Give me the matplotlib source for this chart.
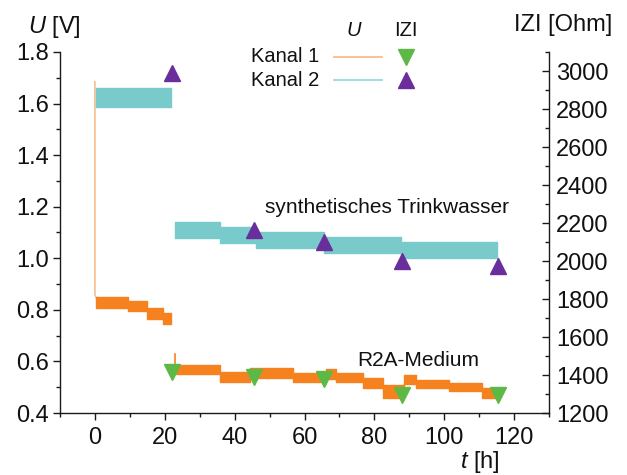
import matplotlib
matplotlib.use('Agg')
import matplotlib.pyplot as plt
from matplotlib.lines import Line2D
from matplotlib.ticker import MultipleLocator

plt.rcParams['font.family'] = ['Liberation Sans', 'DejaVu Sans']
plt.rcParams['mathtext.fontset'] = 'custom'
plt.rcParams['mathtext.it'] = 'Liberation Sans:italic'
plt.rcParams['mathtext.rm'] = 'Liberation Sans'

# ---- data ----
# Kanal 1 voltage (orange): step bands, segment start times [h], lower/upper [V]
k1a_t = [0.3, 9.5, 15.0, 19.4, 21.7]
k1a_lo = [0.806, 0.794, 0.763, 0.744, 0.744]
k1a_hi = [0.848, 0.834, 0.806, 0.787, 0.787]
k1b_t = [22.9, 35.7, 44.3, 56.7, 66.2, 69.0, 76.7, 82.4, 88.6, 91.9, 101.4, 110.9, 115.0]
k1b_lo = [0.552, 0.521, 0.536, 0.519, 0.533, 0.521, 0.498, 0.460, 0.513, 0.496, 0.485, 0.458, 0.458]
k1b_hi = [0.587, 0.560, 0.573, 0.556, 0.571, 0.556, 0.537, 0.510, 0.548, 0.529, 0.517, 0.498, 0.498]
k1_drop_t = [0.0, 0.0, 0.3]
k1_drop_v = [1.685, 0.860, 0.848]
k1_spike_t = [22.9, 22.9]
k1_spike_v = [0.630, 0.560]

# Kanal 2 voltage (cyan)
k2a_t = [0.3, 21.7]
k2a_lo = [1.587, 1.587]
k2a_hi = [1.660, 1.660]
k2b_t = [22.9, 35.7, 46.2, 65.7, 87.7, 115.0]
k2b_lo = [1.079, 1.060, 1.040, 1.021, 1.000, 1.000]
k2b_hi = [1.140, 1.121, 1.102, 1.083, 1.064, 1.064]

# Impedance |Z| [Ohm]
z_t = [22.0, 45.5, 65.5, 88.0, 115.5]
z_k1 = [1415, 1390, 1380, 1295, 1295]
z_k2 = [2990, 2165, 2100, 2000, 1975]

x_ticks = [0, 20, 40, 60, 80, 100, 120]
yl_ticks = [0.4, 0.6, 0.8, 1.0, 1.2, 1.4, 1.6, 1.8]
yr_ticks = [1200, 1400, 1600, 1800, 2000, 2200, 2400, 2600, 2800, 3000]

C_OR = '#F5821F'
C_OR_L = '#F8BE8C'
C_CY = '#79CBCB'
C_CY_L = '#9BDADA'
C_GR = '#5DB946'
C_PU = '#6A2E9C'
C_AX = '#1a1a1a'
C_TX = '#111111'

W, H = 627, 475
fig = plt.figure(figsize=(W / 100, H / 100), dpi=100)


def px(x, y):
    return x / W, 1 - y / H


ax = fig.add_axes([60 / W, (H - 413) / H, (549 - 60) / W, (413 - 52) / H])
ax2 = ax.twinx()

# voltage traces
ax.plot(k1_drop_t, k1_drop_v, color=C_OR_L, lw=1.2, zorder=2)
for tt, lo, hi, c in [(k1a_t, k1a_lo, k1a_hi, C_OR), (k1b_t, k1b_lo, k1b_hi, C_OR),
                      (k2a_t, k2a_lo, k2a_hi, C_CY), (k2b_t, k2b_lo, k2b_hi, C_CY)]:
    ax.fill_between(tt, lo, hi, step='post', facecolor=c, edgecolor=c, lw=1.0, zorder=3)
ax.plot(k1_spike_t, k1_spike_v, color=C_OR, lw=1.2, zorder=3)

# impedance markers
ax2.plot(z_t, z_k1, linestyle='none', marker='v', ms=11, color=C_GR, mec=C_GR, zorder=5)
ax2.plot(z_t, z_k2, linestyle='none', marker='^', ms=11, color=C_PU, mec=C_PU, zorder=5)

ax.set_xlim(-10, 130)
ax.set_ylim(0.4, 1.8)
ax2.set_ylim(1200, 3100)

ax.set_xticks(x_ticks)
ax.set_yticks(yl_ticks)
ax.set_yticklabels([f'{v:.1f}' for v in yl_ticks])
ax2.set_yticks(yr_ticks)
ax.xaxis.set_minor_locator(MultipleLocator(10))
ax.yaxis.set_minor_locator(MultipleLocator(0.1))
ax2.yaxis.set_minor_locator(MultipleLocator(100))

for s in ['top', 'right']:
    ax.spines[s].set_visible(False)
for s in ['top', 'left', 'bottom']:
    ax2.spines[s].set_visible(False)
for s in ['left', 'bottom']:
    ax.spines[s].set_linewidth(1.0)
    ax.spines[s].set_color(C_AX)
ax2.spines['right'].set_linewidth(1.0)
ax2.spines['right'].set_color(C_AX)

FS = 17
ax.tick_params(axis='both', which='major', direction='out', length=5, width=1.0,
               colors=C_AX, labelsize=FS, pad=3)
ax.tick_params(axis='x', which='major', pad=5)
ax.tick_params(axis='both', which='minor', direction='out', length=3, width=1.0, colors=C_AX)
ax2.tick_params(axis='y', which='major', direction='in', length=5, width=1.0,
                colors=C_AX, labelsize=FS, pad=5)
ax2.tick_params(axis='y', which='minor', direction='in', length=3, width=1.0, colors=C_AX)
for lab in ax.get_xticklabels() + ax.get_yticklabels() + ax2.get_yticklabels():
    lab.set_color(C_TX)

# annotations
ax.text(48.6, 1.196, 'synthetisches Trinkwasser', fontsize=15, ha='left', va='center', color=C_TX)
ax.text(75.1, 0.604, 'R2A-Medium', fontsize=15, ha='left', va='center', color=C_TX)

# axis labels
fig.text(*px(28, 27), r'$U$ [V]', fontsize=FS, ha='left', va='center', color=C_TX)
fig.text(*px(514, 25), r'IZI [Ohm]', fontsize=FS, ha='left', va='center', color=C_TX)
fig.text(*px(460, 462), r'$t$ [h]', fontsize=FS, ha='left', va='center', color=C_TX)

# legend (manual)
LFS = 14.5
fig.text(*px(354, 30), r'$U$', fontsize=LFS, ha='center', va='center', color=C_TX)
fig.text(*px(406, 30), 'IZI', fontsize=LFS, ha='center', va='center', color=C_TX)
fig.text(*px(251, 57), 'Kanal 1', fontsize=LFS, ha='left', va='center', color=C_TX)
fig.text(*px(251, 80), 'Kanal 2', fontsize=LFS, ha='left', va='center', color=C_TX)
for yy, c in [(57, C_OR_L), (80, C_CY_L)]:
    x0, y0 = px(334, yy)
    x1, _ = px(382, yy)
    fig.add_artist(Line2D([x0, x1], [y0, y0], color=c, lw=1.3, transform=fig.transFigure))
for yy, m, c in [(57, 'v', C_GR), (80, '^', C_PU)]:
    xm, ym = px(406, yy)
    fig.add_artist(Line2D([xm], [ym], marker=m, ms=11, color=c, mec=c, linestyle='none',
                          transform=fig.transFigure))

fig.savefig('out.png', dpi=100)
